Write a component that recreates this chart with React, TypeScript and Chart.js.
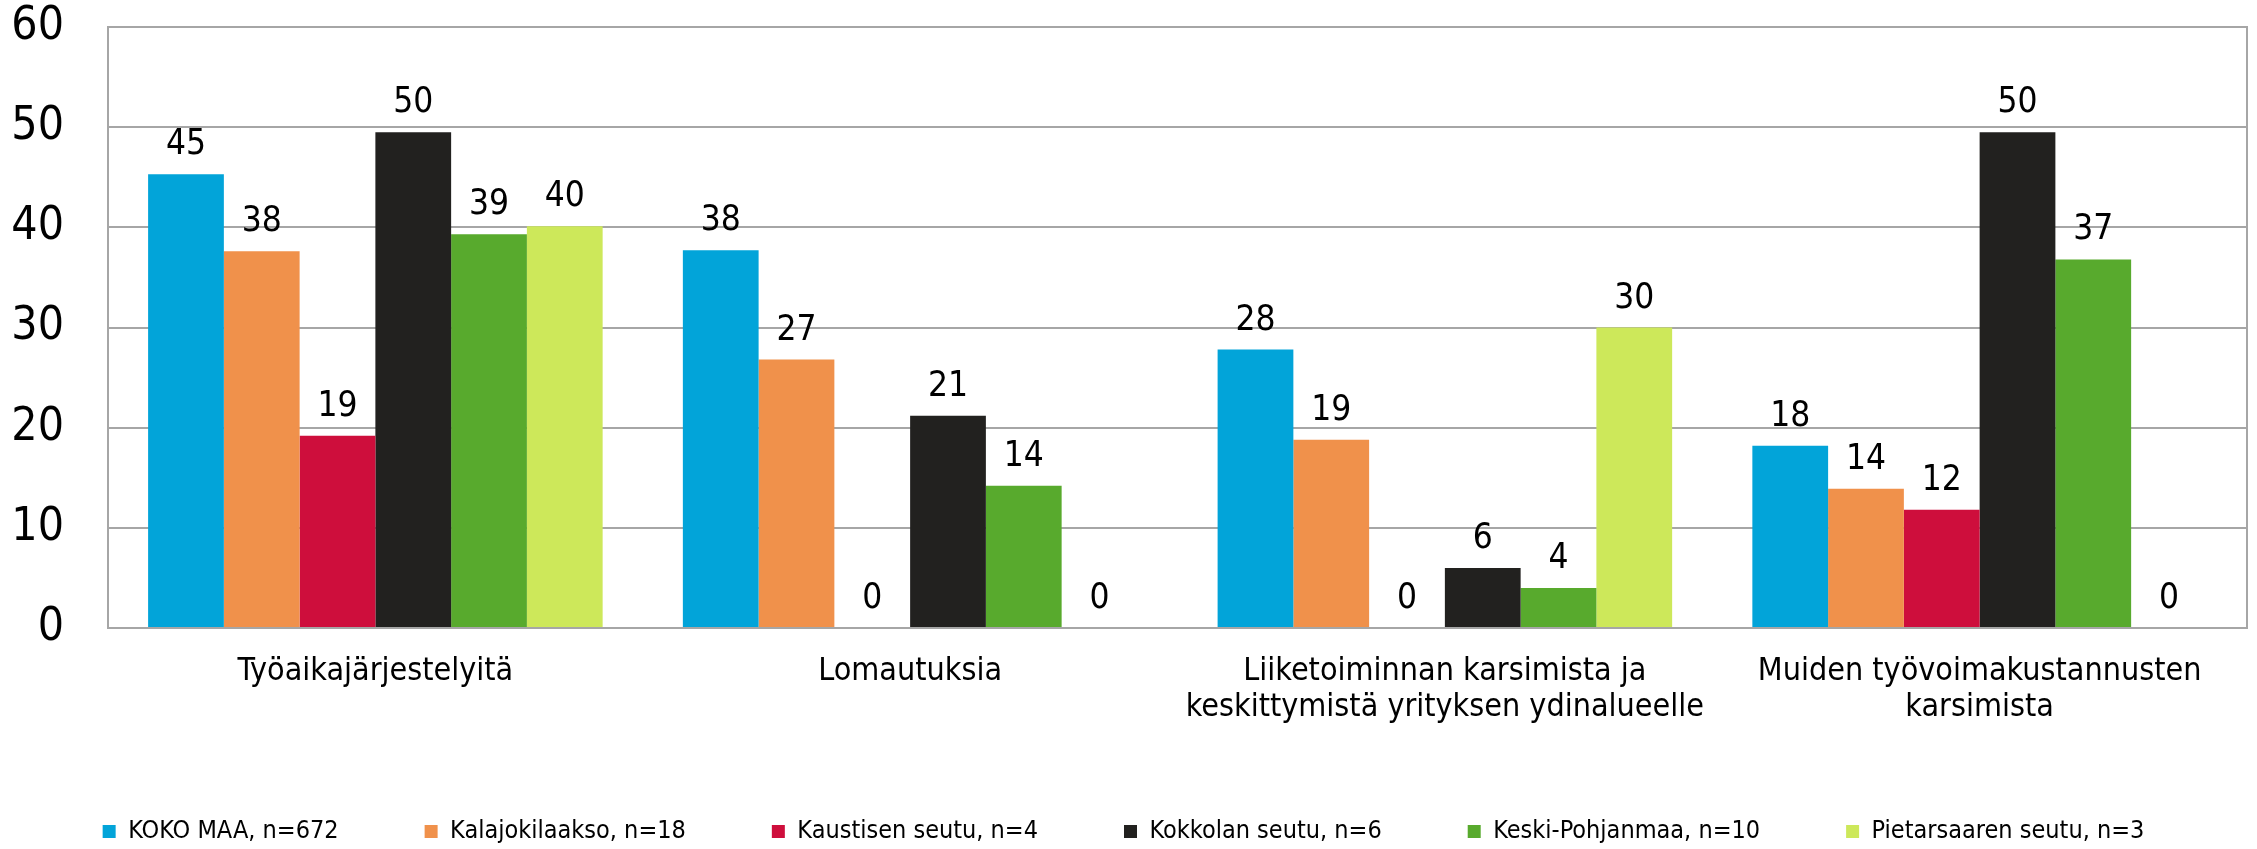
import React, { useEffect, useRef } from "react";
import { Chart, registerables } from "chart.js";

Chart.register(...registerables);

const categories: string[][] = [
  ["Työaikajärjestelyitä"],
  ["Lomautuksia"],
  ["Liiketoiminnan karsimista ja", "keskittymistä yrityksen ydinalueelle"],
  ["Muiden työvoimakustannusten", "karsimista"],
];

const seriesNames = [
  "KOKO MAA, n=672",
  "Kalajokilaakso, n=18",
  "Kaustisen seutu, n=4",
  "Kokkolan seutu, n=6",
  "Keski-Pohjanmaa, n=10",
  "Pietarsaaren seutu, n=3",
];

const kokoMaa = [45.3, 37.7, 27.8, 18.2];
const kalajokilaakso = [37.6, 26.8, 18.8, 13.9];
const kaustinen = [19.2, 0, 0, 11.8];
const kokkola = [49.5, 21.2, 6.0, 49.5];
const keskiPohjanmaa = [39.3, 14.2, 4.0, 36.8];
const pietarsaari = [40.1, 0, 30.0, 0];

const seriesValues = [kokoMaa, kalajokilaakso, kaustinen, kokkola, keskiPohjanmaa, pietarsaari];

const colors = ["#02A4D9", "#F0914B", "#CE0E3C", "#22211F", "#58AA2D", "#CDE85A"];

const yMin = 0;
const yMax = 60;
const yStep = 10;

const FONT = "'DejaVu Sans Condensed', 'DejaVu Sans', sans-serif";
const GRID = "#A6A6A6";

const plotBorder = {
  id: "plotBorder",
  beforeDatasetsDraw(chart: any) {
    const { ctx, chartArea } = chart;
    const { left, top, right, bottom } = chartArea;
    ctx.save();
    ctx.strokeStyle = GRID;
    ctx.lineWidth = 2;
    ctx.strokeRect(left, top, right - left, bottom - top);
    ctx.restore();
  },
};

const valueLabels = {
  id: "valueLabels",
  afterDatasetsDraw(chart: any) {
    const { ctx } = chart;
    ctx.save();
    ctx.font = `35px ${FONT}`;
    ctx.fillStyle = "#000";
    ctx.textAlign = "center";
    ctx.textBaseline = "alphabetic";
    chart.data.datasets.forEach((ds: any, di: number) => {
      const meta = chart.getDatasetMeta(di);
      meta.data.forEach((el: any, i: number) => {
        const v = ds.data[i];
        ctx.fillText(String(Math.round(v)), el.x, el.y - 20);
      });
    });
    ctx.restore();
  },
};

export default function App() {
  const ref = useRef<HTMLCanvasElement | null>(null);

  useEffect(() => {
    document.body.style.margin = "0";
    if (!ref.current) return;
    const chart = new Chart(ref.current, {
      type: "bar",
      data: {
        labels: categories,
        datasets: seriesNames.map((name, i) => ({
          label: name,
          data: seriesValues[i],
          backgroundColor: colors[i],
          borderWidth: 0,
          categoryPercentage: 0.85,
          barPercentage: 1,
        })),
      },
      options: {
        animation: false,
        responsive: false,
        maintainAspectRatio: false,
        layout: { padding: { left: 0, right: 10, top: 0, bottom: -5 } },
        plugins: {
          tooltip: { enabled: false },
          legend: {
            position: "bottom",
            labels: {
              boxWidth: 13,
              boxHeight: 13,
              padding: 86,
              color: "#000",
              font: { family: FONT, size: 25 },
            },
          },
        },
        scales: {
          x: {
            grid: { display: false, drawTicks: false },
            border: { display: false },
            ticks: {
              color: "#000",
              padding: 26,
              maxRotation: 0,
              autoSkip: false,
              font: { family: FONT, size: 32, lineHeight: 36 / 32 },
            },
            afterFit(scale: any) {
              scale.height = 105;
            },
          },
          y: {
            min: yMin,
            max: yMax,
            grid: { color: GRID, lineWidth: 2, drawTicks: false },
            border: { display: false },
            ticks: {
              stepSize: yStep,
              color: "#000",
              padding: 44,
              font: { family: FONT, size: 46 },
            },
            afterFit(scale: any) {
              scale.width = 108;
              scale.paddingTop = 27;
              scale.paddingBottom = 22;
            },
          },
        },
      },
      plugins: [plotBorder, valueLabels],
    });
    return () => chart.destroy();
  }, []);

  return (
    <div style={{ width: 2257, height: 849 }}>
      <canvas ref={ref} width={2257} height={849} style={{ display: "block" }} />
    </div>
  );
}
